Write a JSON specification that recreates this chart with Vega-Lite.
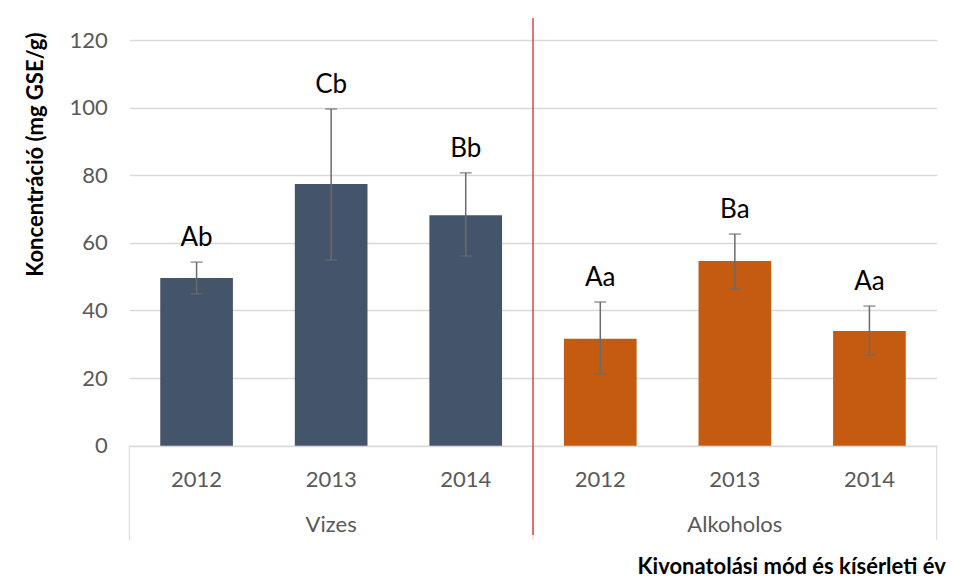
{
  "$schema": "https://vega.github.io/schema/vega-lite/v6.json",
  "width": 807.4,
  "height": 405.7,
  "autosize": {"type": "none"},
  "padding": {"left": 129.3, "top": 40, "right": 17.3, "bottom": 135.3},
  "background": "white",
  "config": {"font": "Lato", "view": {"stroke": null}},
  "datasets": {
    "bars": [
      {"key": "Vizes|2012", "group": "Vizes", "year": "2012", "mean": 49.6, "lo": 44.9, "hi": 54.3, "label": "Ab"},
      {"key": "Vizes|2013", "group": "Vizes", "year": "2013", "mean": 77.4, "lo": 54.9, "hi": 99.6, "label": "Cb"},
      {"key": "Vizes|2014", "group": "Vizes", "year": "2014", "mean": 68.2, "lo": 56.1, "hi": 80.7, "label": "Bb"},
      {"key": "Alkoholos|2012", "group": "Alkoholos", "year": "2012", "mean": 31.6, "lo": 21.2, "hi": 42.5, "label": "Aa"},
      {"key": "Alkoholos|2013", "group": "Alkoholos", "year": "2013", "mean": 54.6, "lo": 46.3, "hi": 62.6, "label": "Ba"},
      {"key": "Alkoholos|2014", "group": "Alkoholos", "year": "2014", "mean": 33.9, "lo": 26.8, "hi": 41.3, "label": "Aa"}
    ],
    "groups": [
      {"key": "Vizes|2013", "group": "Vizes"},
      {"key": "Alkoholos|2013", "group": "Alkoholos"}
    ],
    "seps": [{"key": "Vizes|2012"}, {"key": "Alkoholos|2012"}],
    "sepEnd": [{"key": "Alkoholos|2014"}],
    "red": [{"key": "Alkoholos|2012"}]
  },
  "encoding": {
    "x": {
      "field": "key",
      "type": "nominal",
      "sort": null,
      "title": "Kivonatolási mód és kísérleti év",
      "scale": {
        "domain": ["Vizes|2012", "Vizes|2013", "Vizes|2014", "Alkoholos|2012", "Alkoholos|2013", "Alkoholos|2014"],
        "paddingInner": 0,
        "paddingOuter": 0
      },
      "axis": {
        "labelExpr": "split(datum.label, '|')[1]",
        "labelAngle": 0,
        "labelFont": "Lato",
        "labelFontSize": 22,
        "labelColor": "#595959",
        "labelBaseline": "alphabetic",
        "labelPadding": 40.3,
        "ticks": false,
        "grid": false,
        "domainColor": "#d9d9d9",
        "domainWidth": 1,
        "titleFont": "Lato",
        "titleFontSize": 22,
        "titleFontWeight": "bold",
        "titleColor": "black",
        "titleAnchor": "end",
        "titleAlign": "right",
        "titleBaseline": "alphabetic",
        "titleX": 816,
        "titleY": 127.3
      }
    }
  },
  "layer": [
    {
      "data": {"name": "bars"},
      "mark": {"type": "bar", "width": {"band": 0.54}},
      "encoding": {
        "y": {
          "field": "mean",
          "type": "quantitative",
          "title": "Koncentráció (mg GSE/g)",
          "scale": {"domain": [0, 120], "nice": false},
          "axis": {
            "values": [0, 20, 40, 60, 80, 100, 120],
            "labelFont": "Lato",
            "labelFontSize": 22,
            "labelColor": "#595959",
            "labelPadding": 22,
            "ticks": false,
            "domain": false,
            "gridColor": "#d9d9d9",
            "gridWidth": 1.3,
            "titleFont": "Lato",
            "titleFontSize": 22,
            "titleFontWeight": "bold",
            "titleColor": "black",
            "titleAnchor": "end",
            "titleAlign": "right",
            "titleY": -8,
            "titlePadding": 22
          }
        },
        "color": {
          "field": "group",
          "type": "nominal",
          "scale": {"domain": ["Vizes", "Alkoholos"], "range": ["#44546a", "#c55a11"]},
          "legend": null
        }
      }
    },
    {
      "data": {"name": "bars"},
      "mark": {"type": "rule", "color": "#6b6b6b", "strokeWidth": 1.5},
      "encoding": {
        "y": {"field": "lo", "type": "quantitative"},
        "y2": {"field": "hi"}
      }
    },
    {
      "data": {"name": "bars"},
      "mark": {"type": "tick", "color": "#6b6b6b", "size": 12, "thickness": 1.5},
      "encoding": {"y": {"field": "lo", "type": "quantitative"}}
    },
    {
      "data": {"name": "bars"},
      "mark": {"type": "tick", "color": "#6b6b6b", "size": 12, "thickness": 1.5},
      "encoding": {"y": {"field": "hi", "type": "quantitative"}}
    },
    {
      "data": {"name": "bars"},
      "mark": {"type": "text", "font": "Lato", "fontSize": 26, "color": "black", "baseline": "alphabetic", "dy": -16},
      "encoding": {
        "y": {"field": "hi", "type": "quantitative"},
        "text": {"field": "label"}
      }
    },
    {
      "data": {"name": "groups"},
      "mark": {"type": "text", "font": "Lato", "fontSize": 22, "color": "#595959", "baseline": "alphabetic"},
      "encoding": {
        "y": {"datum": -25.5, "type": "quantitative"},
        "text": {"field": "group"}
      }
    },
    {
      "data": {"name": "seps"},
      "mark": {"type": "rule", "color": "#d9d9d9", "strokeWidth": 1},
      "encoding": {
        "x": {"field": "key", "type": "nominal", "sort": null, "bandPosition": 0, "title": "Kivonatolási mód és kísérleti év"},
        "y": {"datum": 0, "type": "quantitative"},
        "y2": {"datum": -27.9}
      }
    },
    {
      "data": {"name": "sepEnd"},
      "mark": {"type": "rule", "color": "#d9d9d9", "strokeWidth": 1},
      "encoding": {
        "x": {"field": "key", "type": "nominal", "sort": null, "bandPosition": 1, "title": "Kivonatolási mód és kísérleti év"},
        "y": {"datum": 0, "type": "quantitative"},
        "y2": {"datum": -27.9}
      }
    },
    {
      "data": {"name": "red"},
      "mark": {"type": "rule", "color": "#e8262a", "strokeWidth": 1.3},
      "encoding": {
        "x": {"field": "key", "type": "nominal", "sort": null, "bandPosition": 0, "title": "Kivonatolási mód és kísérleti év"},
        "y": {"datum": 126.5, "type": "quantitative"},
        "y2": {"datum": -26.4}
      }
    }
  ]
}
